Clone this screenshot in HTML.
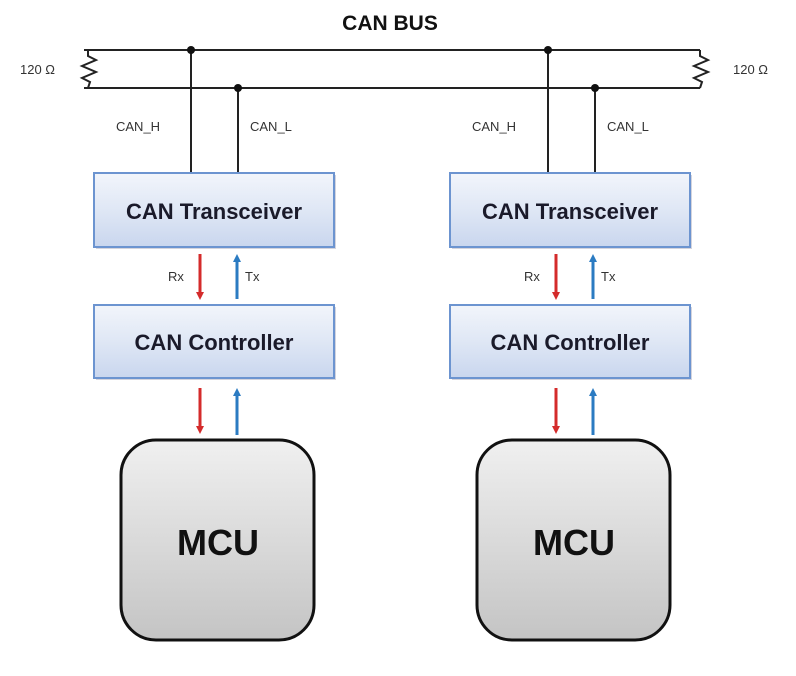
<!DOCTYPE html>
<html><head><style>
body{margin:0;background:#fff;width:796px;height:676px;overflow:hidden}
svg{display:block}
.sm{font-family:"Liberation Sans",sans-serif;font-size:13px;fill:#333}
.bx{font-family:"Liberation Sans",sans-serif;font-weight:bold;font-size:22px;fill:#1a1a2a}
</style></head><body>
<svg width="796" height="676" viewBox="0 0 796 676">
<defs>
<linearGradient id="bg" x1="0" y1="0" x2="0" y2="1"><stop offset="0" stop-color="#f2f5fb"/><stop offset="0.5" stop-color="#dfe7f5"/><stop offset="1" stop-color="#c9d6ee"/></linearGradient>
<linearGradient id="mg" x1="0" y1="0" x2="0" y2="1"><stop offset="0" stop-color="#f0f0f0"/><stop offset="1" stop-color="#c4c4c4"/></linearGradient>
<marker id="ar" markerWidth="8" markerHeight="8" refX="4" refY="4" orient="auto" markerUnits="userSpaceOnUse"><path d="M0,0 L8,4 L0,8z" fill="#d42b2b"/></marker>
<marker id="ab" markerWidth="8" markerHeight="8" refX="4" refY="4" orient="auto" markerUnits="userSpaceOnUse"><path d="M0,0 L8,4 L0,8z" fill="#2b7bc2"/></marker>
</defs>
<text x="390" y="30" text-anchor="middle" style="font-family:'Liberation Sans',sans-serif;font-weight:bold;font-size:21px;fill:#111">CAN BUS</text>
<g stroke="#222" stroke-width="2" fill="none">
<line x1="84" y1="50" x2="700" y2="50"/><line x1="84" y1="88" x2="700" y2="88"/>
<path d="M88,50 L88,56 L96,60 L82,66 L96,72 L82,78 L90,82 L88,88"/>
<path d="M700,50 L700,56 L708,60 L694,66 L708,72 L694,78 L702,82 L700,88"/>
<line x1="191" y1="50" x2="191" y2="173"/><line x1="238" y1="88" x2="238" y2="173"/>
<line x1="548" y1="50" x2="548" y2="173"/><line x1="595" y1="88" x2="595" y2="173"/>
</g>
<g fill="#111"><circle cx="191" cy="50" r="4"/><circle cx="238" cy="88" r="4"/><circle cx="548" cy="50" r="4"/><circle cx="595" cy="88" r="4"/></g>
<text class="sm" x="20" y="74">120 Ω</text><text class="sm" x="733" y="74">120 Ω</text>
<text class="sm" x="116" y="131">CAN_H</text><text class="sm" x="250" y="131">CAN_L</text>
<text class="sm" x="472" y="131">CAN_H</text><text class="sm" x="607" y="131">CAN_L</text>
<g id="n">
<rect x="96" y="175" width="240" height="74" fill="#aab" opacity="0.5"/>
<rect x="94" y="173" width="240" height="74" fill="url(#bg)" stroke="#6c94d0" stroke-width="2"/>
<text class="bx" x="214" y="219" text-anchor="middle">CAN Transceiver</text>
<rect x="96" y="307" width="240" height="73" fill="#aab" opacity="0.5"/>
<rect x="94" y="305" width="240" height="73" fill="url(#bg)" stroke="#6c94d0" stroke-width="2"/>
<text class="bx" x="214" y="350" text-anchor="middle">CAN Controller</text>
<line x1="200" y1="254" x2="200" y2="296" stroke="#d42b2b" stroke-width="3" marker-end="url(#ar)"/>
<line x1="237" y1="299" x2="237" y2="258" stroke="#2b7bc2" stroke-width="3" marker-end="url(#ab)"/>
<text class="sm" x="168" y="281">Rx</text><text class="sm" x="245" y="281">Tx</text>
<line x1="200" y1="388" x2="200" y2="430" stroke="#d42b2b" stroke-width="3" marker-end="url(#ar)"/>
<line x1="237" y1="435" x2="237" y2="392" stroke="#2b7bc2" stroke-width="3" marker-end="url(#ab)"/>
<rect x="121" y="440" width="193" height="200" rx="35" fill="url(#mg)" stroke="#111" stroke-width="3"/>
<text x="218" y="555" text-anchor="middle" style="font-family:'Liberation Sans',sans-serif;font-weight:bold;font-size:36px;fill:#111">MCU</text>
</g>
<use href="#n" x="356"/>
</svg>
</body></html>
